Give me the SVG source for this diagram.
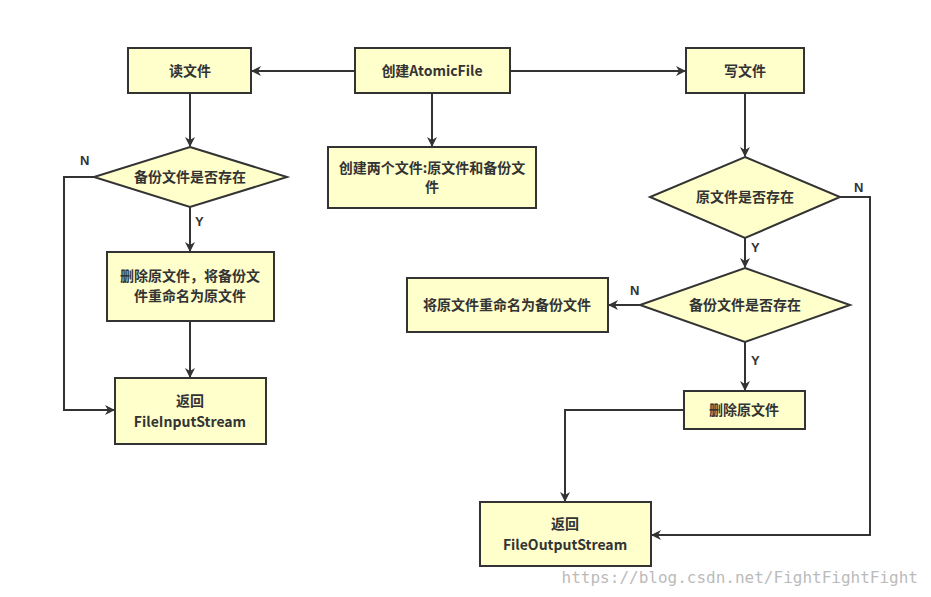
<svg xmlns="http://www.w3.org/2000/svg" width="931" height="597" viewBox="0 0 931 597">
<style>
.n{fill:#FFFFCC;stroke:#333;stroke-width:2}
.t{font-family:"Noto Sans CJK SC","Liberation Sans",sans-serif;font-size:14px;font-weight:bold;fill:#333;text-anchor:middle}
.l{font-family:"Liberation Sans",sans-serif;font-size:13px;font-weight:bold;fill:#333}
.c{fill:none;stroke:#333;stroke-width:2}
</style>
<defs><marker id="a" markerWidth="10" markerHeight="10" refX="9" refY="5" orient="auto" markerUnits="userSpaceOnUse"><path d="M0,0L10,5L0,10L3,5z" fill="#333"/></marker></defs>
<rect width="931" height="597" fill="#fff"/>
<g id="connectors">
<path class="c" d="M355,71H252" marker-end="url(#a)"/>
<path class="c" d="M510,71H685" marker-end="url(#a)"/>
<path class="c" d="M432,93V146" marker-end="url(#a)"/>
<path class="c" d="M190,93V146" marker-end="url(#a)"/>
<path class="c" d="M94,177H64V410H114" marker-end="url(#a)"/>
<path class="c" d="M190,207V251" marker-end="url(#a)"/>
<path class="c" d="M190,321V377" marker-end="url(#a)"/>
<path class="c" d="M745,93V156" marker-end="url(#a)"/>
<path class="c" d="M840,197H870V535H652" marker-end="url(#a)"/>
<path class="c" d="M745,238V267" marker-end="url(#a)"/>
<path class="c" d="M640,305H609" marker-end="url(#a)"/>
<path class="c" d="M745,342V390" marker-end="url(#a)"/>
<path class="c" d="M684,410H565V501" marker-end="url(#a)"/>
<text class="l" x="80" y="165">N</text>
<text class="l" x="195" y="226">Y</text>
<text class="l" x="854" y="192">N</text>
<text class="l" x="751" y="252">Y</text>
<text class="l" x="630" y="295">N</text>
<text class="l" x="751" y="365">Y</text>
</g>
<g id="read"><rect class="n" x="128" y="48" width="123" height="45"/><text class="t" x="190" y="76">读文件</text></g>
<g id="create"><rect class="n" x="355" y="48" width="155" height="45"/><text class="t" x="432" y="76">创建AtomicFile</text></g>
<g id="write"><rect class="n" x="686" y="48" width="118" height="45"/><text class="t" x="745" y="76">写文件</text></g>
<g id="two"><rect class="n" x="328" y="147" width="208" height="61"/><text class="t" x="432" y="173">创建两个文件:原文件和备份文</text><text class="t" x="432" y="192">件</text></g>
<g id="d1"><path class="n" d="M190,147L287,177L190,207L94,177z"/><text class="t" x="190" y="182">备份文件是否存在</text></g>
<g id="del1"><rect class="n" x="107" y="252" width="167" height="69"/><text class="t" x="190" y="281">删除原文件，将备份文</text><text class="t" x="190" y="301">件重命名为原文件</text></g>
<g id="ret1"><rect class="n" x="115" y="378" width="151" height="66"/><text class="t" x="190" y="406">返回</text><text class="t" x="190" y="427">FileInputStream</text></g>
<g id="d2"><path class="n" d="M745,157L840,197L745,238L650,197z"/><text class="t" x="745" y="202">原文件是否存在</text></g>
<g id="d3"><path class="n" d="M745,268L850,305L745,342L640,305z"/><text class="t" x="745" y="310">备份文件是否存在</text></g>
<g id="rename"><rect class="n" x="407" y="278" width="201" height="54"/><text class="t" x="507" y="310">将原文件重命名为备份文件</text></g>
<g id="del2"><rect class="n" x="684" y="391" width="121" height="38"/><text class="t" x="744" y="415">删除原文件</text></g>
<g id="ret2"><rect class="n" x="480" y="502" width="171" height="64"/><text class="t" x="565" y="529">返回</text><text class="t" x="565" y="550">FileOutputStream</text></g>
<text x="918" y="583" style="font-family:'DejaVu Sans Mono',monospace;font-size:16px;fill:#bbb;text-anchor:end">https://blog.csdn.net/FightFightFight</text>
</svg>
